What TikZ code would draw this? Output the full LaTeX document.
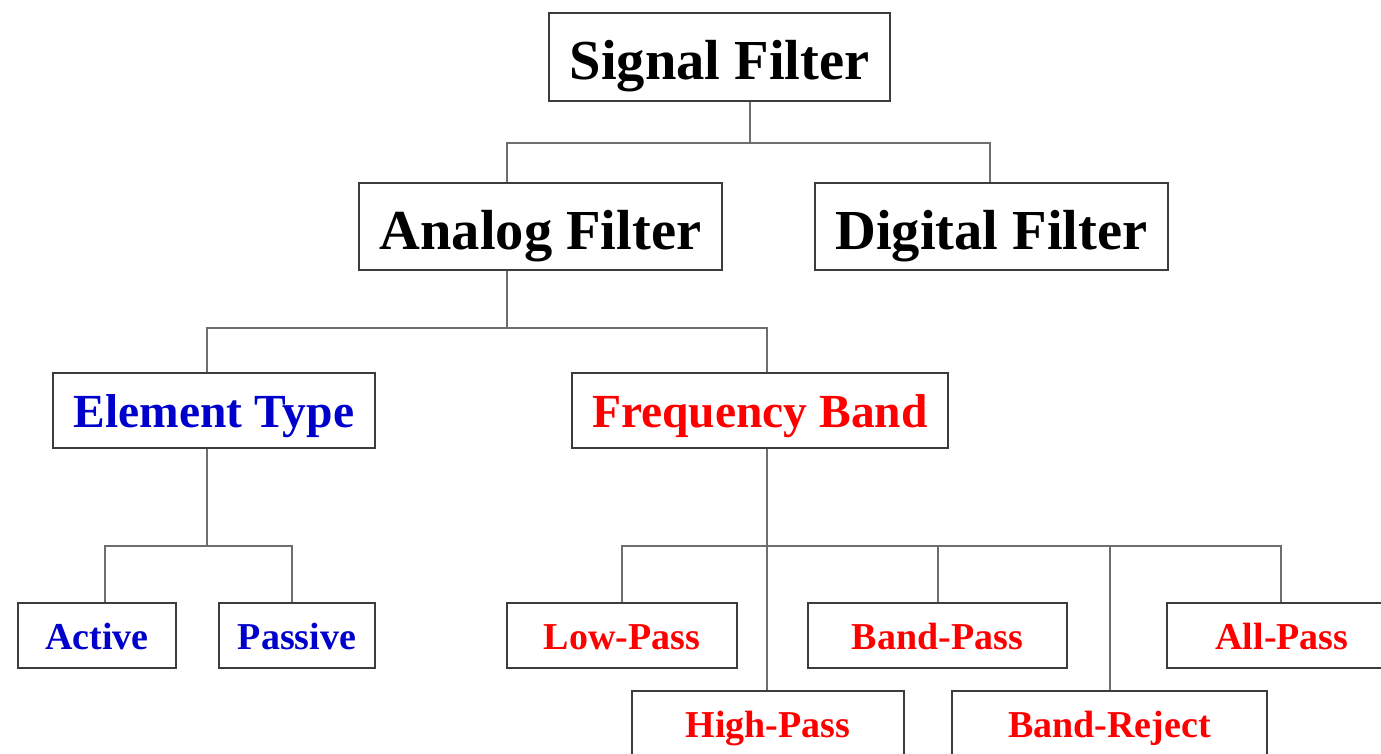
\documentclass[tikz,border=0pt]{standalone}
\usepackage{fontspec}
\setmainfont{Liberation Serif}
\definecolor{tblue}{RGB}{0,0,204}
\definecolor{tred}{RGB}{255,0,0}
\definecolor{boxline}{RGB}{60,60,60}
\definecolor{connline}{RGB}{110,110,110}
\begin{document}
\begin{tikzpicture}[x=1pt,y=1pt,
  box/.style={draw=boxline, line width=1.8pt, fill=white, inner sep=0pt, font=\bfseries},
  big/.style={box, text height=45pt, text depth=0pt, font=\bfseries\fontsize{56.5}{60}\selectfont},
  mid/.style={box, text height=33pt, text depth=0pt, font=\bfseries\fontsize{47.5}{50}\selectfont},
  small/.style={box, text height=27pt, text depth=0pt, font=\bfseries\fontsize{38}{40}\selectfont, minimum height=65pt},
  conn/.style={draw=connline, line width=1.8pt}]
\clip (0,0) rectangle (1381,-753);
\fill[white] (0,0) rectangle (1381,-753);

% connectors first (under boxes)
\coordinate (j1) at (750,-143);
\coordinate (j2) at (507,-328);
\coordinate (j3) at (207,-546);
\coordinate (j4) at (767,-546);

% level 0
\node[big, minimum width=341pt, minimum height=88pt] (sf) at (719.5,-57) {Signal Filter};
% level 1
\node[big, minimum width=363pt, minimum height=87pt] (af) at (540.5,-226.5) {Analog Filter};
\node[big, minimum width=353pt, minimum height=87pt] (df) at (991.5,-226.5) {Digital Filter};
% level 2
\node[mid, text=tblue, minimum width=322pt, minimum height=75pt] (et) at (214,-410.5) {Element Type};
\node[mid, text=tred, minimum width=376pt, minimum height=75pt] (fb) at (760,-410.5) {Frequency Band};
% level 3
\node[small, text=tblue, minimum width=158pt] (ac) at (97,-635.5) {Active};
\node[small, text=tblue, minimum width=156pt] (pa) at (297,-635.5) {Passive};
\node[small, text=tred, minimum width=230pt] (lp) at (622,-635.5) {Low-Pass};
\node[small, text=tred, minimum width=259pt] (bp) at (937.5,-635.5) {Band-Pass};
\node[small, text=tred, minimum width=230pt] (ap) at (1282,-635.5) {All-Pass};
\node[small, text=tred, minimum width=272pt] (hp) at (768,-723.5) {High-Pass};
\node[small, text=tred, minimum width=315pt] (br) at (1109.5,-723.5) {Band-Reject};

\begin{scope}[on background layer/.style={}]
\draw[conn] ([xshift=30.5pt]sf.south) -- (j1);
\draw[conn] ([xshift=-33.5pt]af.north) |- (j1);
\draw[conn] ([xshift=-1.5pt]df.north) |- (j1);

\draw[conn] ([xshift=-33.5pt]af.south) -- (j2);
\draw[conn] ([xshift=-7pt]et.north) |- (j2);
\draw[conn] ([xshift=7pt]fb.north) |- (j2);

\draw[conn] ([xshift=-7pt]et.south) -- (j3);
\draw[conn] ([xshift=8pt]ac.north) |- (j3);
\draw[conn] ([xshift=-5pt]pa.north) |- (j3);

\draw[conn] ([xshift=7pt]fb.south) -- ([xshift=-1pt]hp.north);
\draw[conn] (lp.north) |- (j4);
\draw[conn] ([xshift=0.5pt]bp.north) |- (j4);
\draw[conn] ([xshift=0.5pt]br.north) |- (j4);
\draw[conn] ([xshift=-1pt]ap.north) |- (j4);
\end{scope}
\end{tikzpicture}
\end{document}
